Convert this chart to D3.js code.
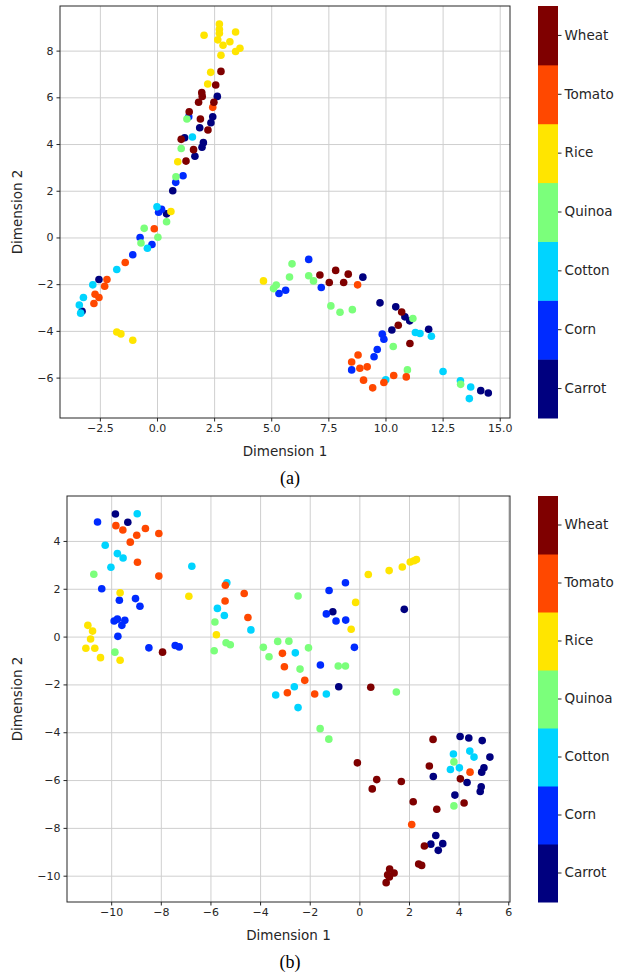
<!DOCTYPE html>
<html>
<head>
<meta charset="utf-8">
<script src="https://cdn.jsdelivr.net/npm/d3@7"></script>
<style>
  body { margin: 0; background: #fff; }
  svg { display: block; }
  text { fill: #262626; }
</style>
</head>
<body>
<svg id="chart" width="623" height="977"></svg>
<script>
// crop classes, bottom to top of the colorbar
const crops = ['Carrot', 'Corn', 'Cotton', 'Quinoa', 'Rice', 'Tomato', 'Wheat']
const cropColors = ['#00007f', '#002bff', '#00d4ff', '#7bff7b', '#ffe500', '#ff4800', '#7f0000']

// panel (a) points, [dim1, dim2]
const aCarrot = [[2.64,6.04],[2.44,5.17],[2.36,4.91],[1.87,4.70],[2.03,4.06],[1.97,3.86],[1.66,3.48],[0.69,2.00],[1.21,4.27],[0.42,1.01],[-2.54,-1.80],[-3.28,-3.16],[9.01,-1.70],[9.76,-2.80],[10.45,-2.97],[10.85,-3.40],[11.06,-3.57],[10.28,-3.96],[11.89,-3.93],[14.17,-6.56],[14.50,-6.66]]
const aCorn = [[1.39,5.17],[1.14,2.64],[0.82,2.36],[0.20,1.21],[0.07,1.08],[-0.74,0.00],[-0.22,-0.30],[-1.06,-0.74],[5.34,-2.40],[5.63,-2.26],[6.64,-0.94],[7.19,-2.14],[9.86,-4.14],[9.93,-4.36],[9.64,-4.80],[9.50,-5.11],[8.52,-5.67]]
const aCotton = [[1.55,4.30],[0.00,1.31],[-0.42,-0.46],[-1.76,-1.37],[-2.81,-2.03],[-3.22,-2.57],[-3.40,-2.89],[-3.34,-3.24],[11.31,-4.07],[11.51,-4.11],[12.01,-4.23],[10.01,-6.09],[12.52,-5.74],[13.28,-6.14],[13.73,-6.40],[13.67,-6.90]]
const aQuinoa = [[1.31,5.07],[1.06,3.81],[0.83,2.60],[0.42,0.67],[-0.56,0.39],[0.04,0.01],[-0.70,-0.24],[5.91,-1.13],[5.22,-2.04],[5.10,-2.19],[5.80,-1.69],[6.64,-1.64],[6.85,-1.86],[7.61,-2.93],[8.01,-3.20],[8.55,-3.09],[11.20,-3.47],[10.34,-4.67],[10.96,-5.67],[13.29,-6.29]]
const aRice = [[2.73,9.14],[2.73,8.91],[2.73,8.74],[2.06,8.66],[3.44,8.80],[2.66,8.46],[2.89,8.23],[3.19,8.38],[3.44,7.96],[3.63,8.10],[2.80,7.80],[2.35,7.07],[2.22,6.57],[0.91,3.24],[0.61,1.11],[4.66,-1.86],[-1.76,-4.05],[-1.58,-4.13],[-1.06,-4.40]]
const aTomato = [[2.44,5.57],[-0.12,0.37],[-1.39,-1.07],[-2.19,-1.80],[-2.29,-2.09],[-2.71,-2.43],[-2.54,-2.57],[-2.76,-2.83],[8.78,-2.03],[8.80,-5.03],[8.52,-5.33],[8.88,-5.60],[9.20,-5.54],[10.91,-5.97],[10.36,-5.91],[9.93,-6.21],[9.04,-6.11],[9.44,-6.44]]
const aWheat = [[2.80,7.11],[2.57,6.53],[1.96,6.20],[1.98,6.04],[1.82,5.79],[2.49,5.79],[1.41,5.38],[1.90,5.07],[2.23,4.60],[1.06,4.20],[1.60,3.76],[1.27,3.27],[7.13,-1.61],[7.54,-1.93],[7.82,-1.41],[8.17,-1.93],[8.37,-1.57],[10.71,-3.19],[10.56,-3.76],[11.07,-4.54]]

// panel (b) points
const bCarrot = [[-9.83,5.13],[-9.33,4.78],[-1.07,1.04],[-0.83,-2.10],[1.81,1.14],[4.06,-4.18],[4.41,-4.24],[4.95,-4.35],[5.26,-5.04],[5.02,-5.49],[4.93,-5.67],[2.98,-5.85],[4.34,-6.10],[4.91,-6.28],[4.87,-6.48],[3.85,-6.63],[3.08,-8.32],[2.88,-8.68],[3.36,-8.66],[3.18,-8.94]]
const bCorn = [[-10.55,4.79],[-10.38,2.00],[-9.67,1.52],[-9.02,1.59],[-8.84,1.27],[-9.88,0.65],[-9.75,0.73],[-9.45,0.68],[-9.57,0.47],[-9.73,0.01],[-8.48,-0.47],[-7.42,-0.37],[-7.26,-0.43],[-1.57,-1.19],[-0.20,-0.45],[-0.56,2.25],[-1.22,1.93],[-1.33,0.95],[-0.94,0.65],[-0.55,0.69]]
const bCotton = [[-8.95,5.14],[-10.24,3.82],[-9.75,3.47],[-9.52,3.29],[-10.01,2.90],[-6.75,2.94],[-5.34,2.25],[-5.72,1.18],[-5.44,0.88],[-4.37,0.28],[-2.58,-0.68],[-2.62,-2.10],[-3.37,-2.44],[-2.47,-2.97],[-1.33,-2.40],[3.79,-4.91],[4.45,-4.79],[4.62,-5.04],[4.03,-5.49],[3.67,-5.56]]
const bQuinoa = [[-10.70,2.61],[-5.82,0.61],[-5.37,-0.26],[-5.20,-0.34],[-5.85,-0.59],[-9.85,-0.65],[-2.47,1.70],[-3.29,-0.20],[-2.84,-0.19],[-3.87,-0.45],[-3.64,-0.84],[-2.05,-0.47],[-2.39,-1.36],[1.49,-2.32],[-0.85,-1.23],[-0.56,-1.23],[-1.58,-3.85],[-1.23,-4.29],[3.81,-5.24],[3.81,-7.08]]
const bRice = [[-9.64,1.83],[-6.87,1.69],[-5.76,0.08],[-10.94,0.47],[-10.75,0.23],[-10.83,-0.10],[-11.02,-0.49],[-10.66,-0.49],[-10.43,-0.88],[-9.64,-0.99],[-0.15,1.43],[-0.33,0.31],[0.36,2.60],[1.20,2.76],[1.73,2.91],[2.05,3.12],[2.20,3.17],[2.30,3.22]]
const bTomato = [[-9.81,4.64],[-9.53,4.46],[-8.62,4.52],[-8.97,4.24],[-8.08,4.31],[-9.23,3.95],[-8.94,3.11],[-8.08,2.53],[-5.40,2.15],[-4.64,1.80],[-5.41,1.49],[-4.49,0.80],[-3.10,-0.70],[-3.02,-1.26],[-2.20,-1.83],[-2.90,-2.35],[-1.80,-2.40],[4.46,-5.67],[2.11,-7.86]]
const bWheat = [[-7.93,-0.65],[0.46,-2.12],[2.97,-4.30],[-0.08,-5.28],[0.70,-5.98],[0.52,-6.37],[1.69,-6.06],[2.82,-5.41],[4.07,-5.95],[4.22,-6.96],[2.17,-6.91],[3.12,-7.22],[2.62,-8.76],[2.39,-9.51],[2.51,-9.57],[1.22,-9.72],[1.40,-9.89],[1.14,-9.96],[1.21,-10.05],[1.08,-10.29]]

const aXTicks = [-2.5, 0, 2.5, 5, 7.5, 10, 12.5, 15]
const aYTicks = [-6, -4, -2, 0, 2, 4, 6, 8]
const bXTicks = [-10, -8, -6, -4, -2, 0, 2, 4, 6]
const bYTicks = [-10, -8, -6, -4, -2, 0, 2, 4]

const svg = d3.select('#chart')
const sans = '"DejaVu Sans", sans-serif'

function drawPanel(opts) {
  const {left, right, top, bottom, xDomain, yDomain, xTicks, yTicks, xFmt, series, caption} = opts
  const x = d3.scaleLinear().domain(xDomain).range([left, right])
  const y = d3.scaleLinear().domain(yDomain).range([bottom, top])
  const g = svg.append('g')

  // grid
  g.append('g').attr('transform', `translate(0,${bottom})`)
    .call(d3.axisBottom(x).tickValues(xTicks).tickSize(-(bottom - top)).tickFormat(''))
    .call(a => a.select('.domain').remove())
    .selectAll('line').attr('stroke', '#cfcfcf').attr('stroke-width', 1)
  g.append('g').attr('transform', `translate(${left},0)`)
    .call(d3.axisLeft(y).tickValues(yTicks).tickSize(-(right - left)).tickFormat(''))
    .call(a => a.select('.domain').remove())
    .selectAll('line').attr('stroke', '#cfcfcf').attr('stroke-width', 1)

  // points
  series.forEach((pts, i) => {
    g.append('g').selectAll('circle')
      .data(pts)
      .enter()
      .append('circle')
      .attr('cx', d => x(d[0]))
      .attr('cy', d => y(d[1]))
      .attr('r', 3.8)
      .attr('fill', cropColors[i])
  })

  // axes
  const xAxis = g.append('g').attr('transform', `translate(0,${bottom})`)
    .call(d3.axisBottom(x).tickValues(xTicks).tickSize(3.5).tickPadding(3).tickFormat(xFmt))
  const yAxis = g.append('g').attr('transform', `translate(${left},0)`)
    .call(d3.axisLeft(y).tickValues(yTicks).tickSize(3.5).tickPadding(3).tickFormat(d3.format('d')))
  for (const ax of [xAxis, yAxis]) {
    ax.select('.domain').remove()
    ax.selectAll('text').style('font-family', sans).attr('font-size', 11).style('fill', '#262626')
    ax.selectAll('line').attr('stroke', '#262626')
  }
  g.append('rect')
    .attr('x', left).attr('y', top)
    .attr('width', right - left).attr('height', bottom - top)
    .attr('fill', 'none').attr('stroke', '#262626').attr('stroke-width', 1)

  g.append('text')
    .attr('x', (left + right) / 2).attr('y', bottom + 38)
    .attr('text-anchor', 'middle').attr('font-size', 13.5)
    .style('font-family', sans)
    .text('Dimension 1')
  g.append('text')
    .attr('transform', `translate(22,${(top + bottom) / 2}) rotate(-90)`)
    .attr('text-anchor', 'middle').attr('font-size', 13.5)
    .style('font-family', sans)
    .text('Dimension 2')
  g.append('text')
    .attr('x', 290).attr('y', bottom + 66)
    .attr('text-anchor', 'middle')
    .style('font-family', '"Liberation Serif", "Times New Roman", serif')
    .style('fill', '#000')
    .attr('font-size', 18)
    .text(caption)

  // colorbar
  const cbX = 538, cbW = 20
  const cy = d3.scaleBand().domain(crops.slice().reverse()).range([top, bottom])
  const cb = g.append('g')
  cb.selectAll('rect')
    .data(crops)
    .enter()
    .append('rect')
    .attr('x', cbX).attr('y', d => cy(d))
    .attr('width', cbW).attr('height', cy.bandwidth() + 0.5)
    .attr('fill', (d, i) => cropColors[i])
  cb.append('g').attr('transform', `translate(${cbX + cbW},0)`)
    .call(d3.axisRight(cy).tickSize(3.5).tickPadding(3))
    .call(a => a.select('.domain').remove())
    .call(a => a.selectAll('text').style('font-family', sans).attr('font-size', 13.5).style('fill', '#262626'))
    .call(a => a.selectAll('line').attr('stroke', '#262626'))
}

drawPanel({
  left: 60, right: 510, top: 6, bottom: 418,
  xDomain: [-4.245, 15.45], yDomain: [-7.73, 9.91],
  xTicks: aXTicks, yTicks: aYTicks, xFmt: d3.format('.1f'),
  series: [aCarrot, aCorn, aCotton, aQuinoa, aRice, aTomato, aWheat],
  caption: '(a)'
})

drawPanel({
  left: 67, right: 510, top: 496, bottom: 902,
  xDomain: [-11.78, 6.07], yDomain: [-11.1, 5.88],
  xTicks: bXTicks, yTicks: bYTicks, xFmt: d3.format('d'),
  series: [bCarrot, bCorn, bCotton, bQuinoa, bRice, bTomato, bWheat],
  caption: '(b)'
})
</script>
</body>
</html>
